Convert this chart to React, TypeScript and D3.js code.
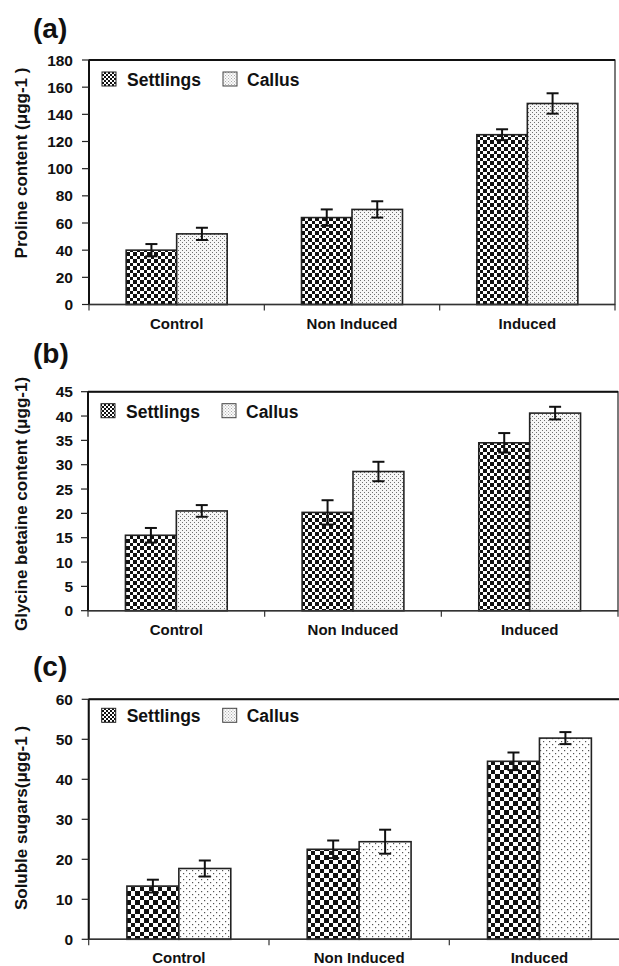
import * as d3 from 'd3';

const categories = ['Control', 'Non Induced', 'Induced'];
const seriesNames = ['Settlings', 'Callus'];

const prolineSettlings = [40, 64, 125];
const prolineSettlingsErr = [4.5, 6, 4];
const prolineCallus = [52, 70, 148];
const prolineCallusErr = [4.5, 6, 7.5];
const prolineTicks = [0, 20, 40, 60, 80, 100, 120, 140, 160, 180];

const glycineSettlings = [15.5, 20.2, 34.5];
const glycineSettlingsErr = [1.5, 2.5, 2];
const glycineCallus = [20.5, 28.6, 40.6];
const glycineCallusErr = [1.2, 2, 1.3];
const glycineTicks = [0, 5, 10, 15, 20, 25, 30, 35, 40, 45];

const sugarSettlings = [13.3, 22.5, 44.5];
const sugarSettlingsErr = [1.6, 2.2, 2.2];
const sugarCallus = [17.7, 24.4, 50.3];
const sugarCallusErr = [2, 3, 1.5];
const sugarTicks = [0, 10, 20, 30, 40, 50, 60];

const W = 619;
const H = 966;
const FONT = 'Liberation Sans, Arial, Helvetica, sans-serif';

const panels = [
  {
    id: 'a', tag: '(a)', tagY: 38, yTitle: 'Proline content (μgg-1 )', titleCy: 163,
    left: 89, right: 615, top: 60, bottom: 304.5, ticks: prolineTicks, catY: 329, legendDy: 26,
    values: [prolineSettlings, prolineCallus], errs: [prolineSettlingsErr, prolineCallusErr], sparse: false,
  },
  {
    id: 'b', tag: '(b)', tagY: 363, yTitle: 'Glycine betaine content (μgg-1)', titleCy: 504,
    left: 88, right: 618, top: 391.7, bottom: 610.7, ticks: glycineTicks, catY: 635, legendDy: 26,
    values: [glycineSettlings, glycineCallus], errs: [glycineSettlingsErr, glycineCallusErr], sparse: false,
  },
  {
    id: 'c', tag: '(c)', tagY: 676, yTitle: 'Soluble sugars(μgg-1 )', titleCy: 818,
    left: 88.7, right: 629.6, top: 699.3, bottom: 939.3, ticks: sugarTicks, catY: 963, legendDy: 23,
    values: [sugarSettlings, sugarCallus], errs: [sugarSettlingsErr, sugarCallusErr], sparse: true,
  },
];

function Patterns() {
  const checker = (id: string, c: number) => (
    <pattern id={id} width={c * 2} height={c * 2} patternUnits="userSpaceOnUse">
      <rect width={c * 2} height={c * 2} fill="#fff" />
      <rect width={c} height={c} fill="#111" shapeRendering="crispEdges" />
      <rect x={c} y={c} width={c} height={c} fill="#111" shapeRendering="crispEdges" />
    </pattern>
  );
  const dots = (id: string, s: number, r: number, col: string, bg: string) => (
    <pattern id={id} width={s * 2} height={s * 2} patternUnits="userSpaceOnUse">
      <rect width={s * 2} height={s * 2} fill={bg} />
      <rect x={0} y={0} width={r} height={r} fill={col} />
      <rect x={s} y={s} width={r} height={r} fill={col} />
    </pattern>
  );
  return (
    <defs>
      {checker('chk', 3.5)}
      {checker('chk-c', 4.5)}
      {checker('chk-leg', 2)}
      {dots('dot', 2, 1, '#707070', '#f6f6f6')}
      {dots('dot-c', 3, 1.2, '#555', '#fff')}
      {dots('dot-leg', 1.5, 0.9, '#999', '#fafafa')}
    </defs>
  );
}

function Panel({ p }: { p: typeof panels[number] }) {
  const yMax = p.ticks[p.ticks.length - 1];
  const y = d3.scaleLinear().domain([0, yMax]).range([p.bottom, p.top]);
  const x0 = d3.scaleBand().domain(categories).range([p.left, p.right]).paddingInner(0).paddingOuter(0);
  const x1 = d3.scaleBand().domain(seriesNames).range([0, x0.bandwidth()]).paddingInner(0).paddingOuter(0.736);
  const fills = p.sparse ? ['url(#chk-c)', 'url(#dot-c)'] : ['url(#chk)', 'url(#dot)'];
  const edges = [p.left, ...categories.map(c => (x0(c) as number) + x0.bandwidth())];
  const legX = [p.left + 13, p.left + 38, p.left + 134, p.left + 158];
  const legY = p.top + p.legendDy;

  return (
    <g>
      <text x={33} y={p.tagY} fontSize={28} fontWeight="bold">{p.tag}</text>
      <text transform={`translate(27,${p.titleCy}) rotate(-90)`} textAnchor="middle" fontSize={17} fontWeight="bold">
        {p.yTitle}
      </text>

      {seriesNames.map((s, si) =>
        categories.map((c, ci) => {
          const v = p.values[si][ci];
          const e = p.errs[si][ci];
          const bx = (x0(c) as number) + (x1(s) as number);
          const cx = bx + x1.bandwidth() / 2;
          return (
            <g key={`${s}-${c}`}>
              <rect x={bx} y={y(v)} width={x1.bandwidth()} height={p.bottom - y(v)}
                fill={fills[si]} stroke="#222" strokeWidth={1.6} />
              <g stroke="#111" strokeWidth={2}>
                <line x1={cx} x2={cx} y1={y(v - e)} y2={y(v + e)} />
                <line x1={cx - 6} x2={cx + 6} y1={y(v + e)} y2={y(v + e)} />
                <line x1={cx - 6} x2={cx + 6} y1={y(v - e)} y2={y(v - e)} />
              </g>
            </g>
          );
        })
      )}

      {/* frame */}
      <rect x={p.left} y={p.top} width={p.right - p.left} height={p.bottom - p.top}
        fill="none" stroke="#222" strokeWidth={1.2} />
      <line x1={p.left} x2={p.right} y1={p.top} y2={p.top} stroke="#111" strokeWidth={2} />
      <line x1={p.left} x2={p.left} y1={p.top} y2={p.bottom} stroke="#111" strokeWidth={2} />
      <line x1={p.left} x2={p.right} y1={p.bottom} y2={p.bottom} stroke="#333" strokeWidth={1.6} />

      {p.ticks.map(t => (
        <g key={t}>
          <line x1={p.left - 7} x2={p.left} y1={y(t)} y2={y(t)} stroke="#222" strokeWidth={1.2} />
          <text x={73} y={y(t) + 5.5} textAnchor="end" fontSize={15.5} fontWeight="bold">{t}</text>
        </g>
      ))}
      {edges.map((ex, i) => (
        <line key={i} x1={ex} x2={ex} y1={p.bottom} y2={p.bottom + 6} stroke="#333" strokeWidth={1.2} />
      ))}
      {categories.map(c => (
        <text key={c} x={(x0(c) as number) + x0.bandwidth() / 2} y={p.catY} textAnchor="middle"
          fontSize={15} fontWeight="bold">{c}</text>
      ))}

      {/* legend */}
      <rect x={legX[0]} y={legY - 14} width={14} height={14} fill="url(#chk-leg)" stroke="#222" strokeWidth={1} />
      <text x={legX[1]} y={legY} fontSize={17.5} fontWeight="bold">{seriesNames[0]}</text>
      <rect x={legX[2]} y={legY - 14} width={14} height={14} fill="url(#dot-leg)" stroke="#444" strokeWidth={1} />
      <text x={legX[3]} y={legY} fontSize={17.5} fontWeight="bold">{seriesNames[1]}</text>
    </g>
  );
}

export default function App() {
  return (
    <div style={{ position: 'absolute', left: 0, top: 0, width: W, height: H, background: '#fff' }}>
      <svg width={W} height={H} style={{ display: 'block', fontFamily: FONT }} fill="#111">
        <Patterns />
        {panels.map(p => <Panel key={p.id} p={p} />)}
      </svg>
    </div>
  );
}
